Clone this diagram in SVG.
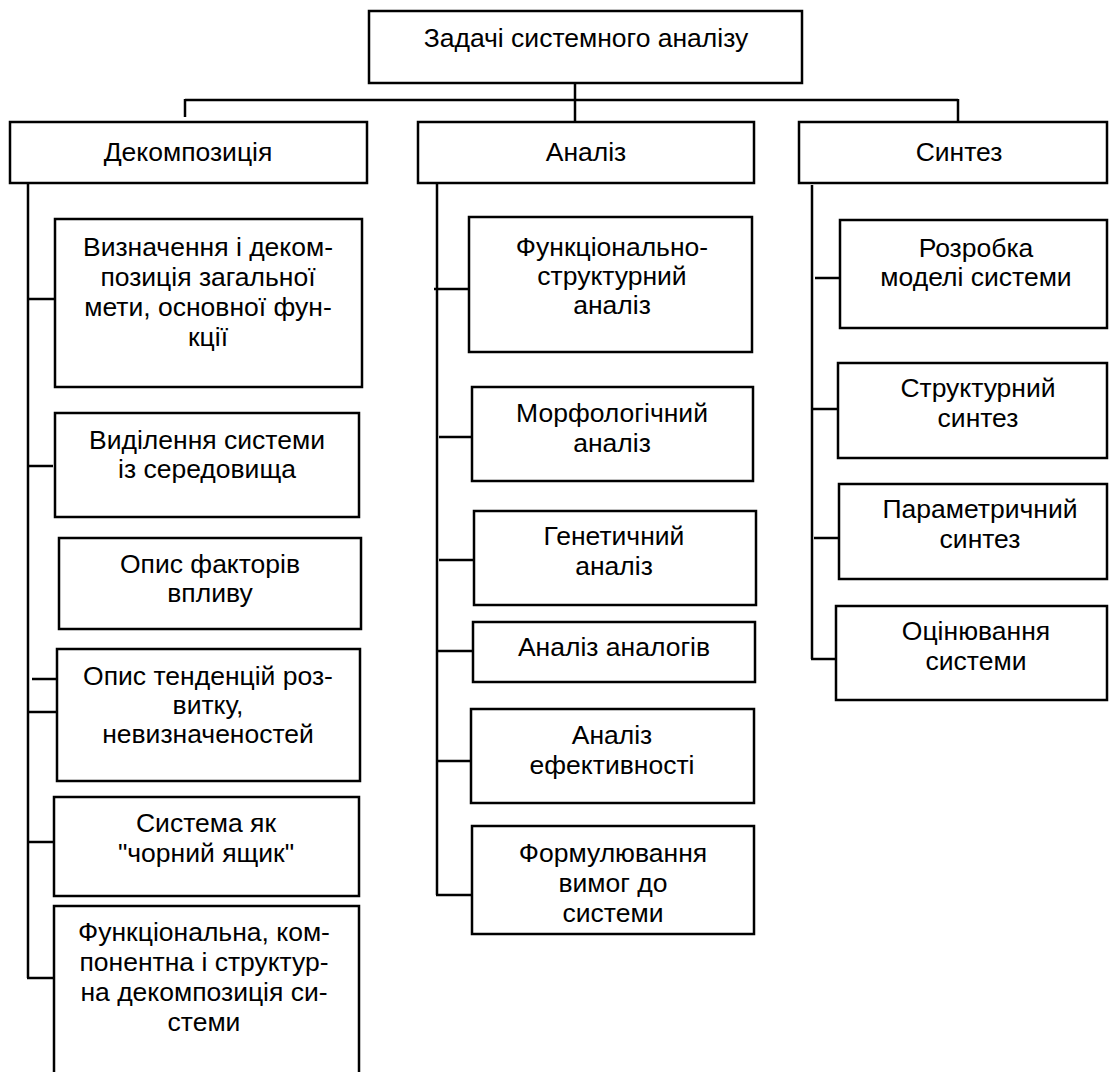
<svg xmlns="http://www.w3.org/2000/svg" width="1110" height="1072" viewBox="0 0 1110 1072">
<style>
rect{fill:#fff;stroke:#000;stroke-width:2.5}
.c line{stroke:#000;stroke-width:2.5;fill:none}
text{font-family:"Liberation Sans",Arial,sans-serif;font-size:26.5px;fill:#000;text-anchor:middle}
</style>
<rect x="0" y="0" width="1110" height="1072" style="stroke:none"/>
<g class="c" id="connectors">
<line x1="575" y1="83" x2="575" y2="122"/>
<line x1="185" y1="100" x2="958" y2="100"/>
<line x1="185" y1="99" x2="185" y2="117"/>
<line x1="958" y1="99" x2="958" y2="123"/>
<line x1="28" y1="183" x2="28" y2="978"/>
<line x1="28" y1="299" x2="55" y2="299"/>
<line x1="28" y1="466" x2="53" y2="466"/>
<line x1="32" y1="679" x2="57" y2="679"/>
<line x1="28" y1="712" x2="57" y2="712"/>
<line x1="28" y1="842" x2="54" y2="842"/>
<line x1="27" y1="978" x2="54" y2="978"/>
<line x1="437" y1="183" x2="437" y2="895"/>
<line x1="434" y1="289" x2="469" y2="289"/>
<line x1="439" y1="437" x2="474" y2="437"/>
<line x1="439" y1="560" x2="474" y2="560"/>
<line x1="437" y1="651" x2="473" y2="651"/>
<line x1="437" y1="761" x2="471" y2="761"/>
<line x1="436" y1="895" x2="472" y2="895"/>
<line x1="812" y1="185" x2="812" y2="659"/>
<line x1="815" y1="278" x2="840" y2="278"/>
<line x1="812" y1="409" x2="838" y2="409"/>
<line x1="814" y1="538" x2="839" y2="538"/>
<line x1="811" y1="659" x2="836" y2="659"/>
</g>
<g id="root"><rect x="369" y="11" width="433" height="72"/><text x="586" y="47">Задачі системного аналізу</text></g>
<g id="decomp"><rect x="10" y="122" width="357" height="61"/><text x="188" y="161">Декомпозиція</text></g>
<g id="analysis"><rect x="418" y="122" width="336" height="61"/><text x="586" y="161">Аналіз</text></g>
<g id="synthesis"><rect x="799" y="122" width="308" height="61"/><text x="959" y="161">Синтез</text></g>
<g id="d1"><rect x="55" y="219" width="307" height="168"/><text x="208" y="256">Визначення і деком-</text><text x="208" y="286">позиція загальної</text><text x="208" y="316">мети, основної фун-</text><text x="208" y="346">кції</text></g>
<g id="d2"><rect x="55" y="413" width="304" height="104"/><text x="207" y="449">Виділення системи</text><text x="207" y="478">із середовища</text></g>
<g id="d3"><rect x="59" y="538" width="302" height="91"/><text x="210" y="573">Опис факторів</text><text x="210" y="602">впливу</text></g>
<g id="d4"><rect x="57" y="649" width="303" height="132"/><text x="208" y="685">Опис тенденцій роз-</text><text x="208" y="714">витку,</text><text x="208" y="743">невизначеностей</text></g>
<g id="d5"><rect x="54" y="797" width="305" height="99"/><text x="206" y="832">Система як</text><text x="206" y="862">"чорний ящик"</text></g>
<g id="d6"><rect x="54" y="906" width="305" height="180"/><text x="204" y="941">Функціональна, ком-</text><text x="204" y="971">понентна і структур-</text><text x="204" y="1001">на декомпозиція си-</text><text x="204" y="1031">стеми</text></g>
<g id="a1"><rect x="469" y="217" width="283" height="135"/><text x="612" y="256">Функціонально-</text><text x="612" y="285">структурний</text><text x="612" y="314">аналіз</text></g>
<g id="a2"><rect x="472" y="387" width="281" height="94"/><text x="612" y="422">Морфологічний</text><text x="612" y="452">аналіз</text></g>
<g id="a3"><rect x="474" y="511" width="282" height="94"/><text x="614" y="545">Генетичний</text><text x="614" y="575">аналіз</text></g>
<g id="a4"><rect x="473" y="622" width="282" height="60"/><text x="614" y="656">Аналіз аналогів</text></g>
<g id="a5"><rect x="471" y="709" width="283" height="94"/><text x="612" y="744">Аналіз</text><text x="612" y="774">ефективності</text></g>
<g id="a6"><rect x="472" y="826" width="282" height="108"/><text x="613" y="862">Формулювання</text><text x="613" y="892">вимог до</text><text x="613" y="922">системи</text></g>
<g id="s1"><rect x="840" y="220" width="267" height="108"/><text x="976" y="257">Розробка</text><text x="976" y="286">моделі системи</text></g>
<g id="s2"><rect x="838" y="363" width="269" height="95"/><text x="978" y="397">Структурний</text><text x="978" y="427">синтез</text></g>
<g id="s3"><rect x="839" y="484" width="268" height="95"/><text x="980" y="518">Параметричний</text><text x="980" y="548">синтез</text></g>
<g id="s4"><rect x="836" y="606" width="271" height="94"/><text x="976" y="640">Оцінювання</text><text x="976" y="670">системи</text></g>
</svg>
